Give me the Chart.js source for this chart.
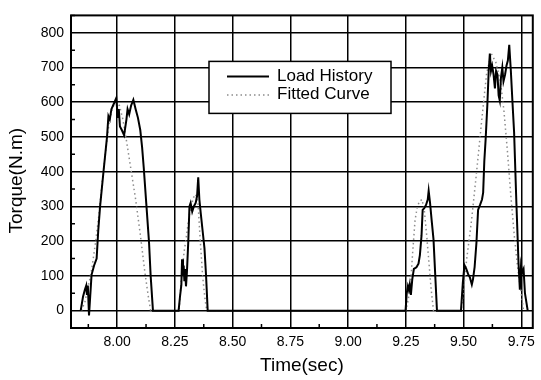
<!DOCTYPE html>
<html><head><meta charset="utf-8">
<script src="https://cdn.jsdelivr.net/npm/chart.js@4/dist/chart.umd.min.js"></script>
<style>html,body{margin:0;padding:0;background:#fff;} #wrap{width:541px;height:380px;position:relative;}</style>
</head><body><div id="wrap"><canvas id="c" width="541" height="380"></canvas></div>
<script>
// ---- data ----
const seriesNames = ['Load History', 'Fitted Curve'];
const xAxisTitle = 'Time(sec)';
const yAxisTitle = 'Torque(N.m)';

const loadTime = [
  7.842, 7.852, 7.860, 7.866, 7.869, 7.873, 7.878, 7.889, 7.900, 7.911, 7.918, 7.926, 7.941, 7.956, 7.962, 7.968, 7.975, 7.985, 7.996,
  8.003, 8.007, 8.012, 8.020, 8.030, 8.040, 8.045, 8.052, 8.060, 8.070, 8.080, 8.090, 8.100, 8.108, 8.115, 8.126, 8.138, 8.145, 8.155,
  8.266, 8.272, 8.278, 8.281, 8.285, 8.288, 8.291, 8.294, 8.298, 8.302, 8.308, 8.313, 8.318, 8.325, 8.332, 8.340, 8.346, 8.351, 8.356,
  8.362, 8.370, 8.378, 8.385, 8.392,
  9.249, 9.254, 9.259, 9.263, 9.267, 9.272, 9.278, 9.285, 9.296, 9.305, 9.311, 9.318, 9.323, 9.330, 9.338, 9.345, 9.349, 9.355, 9.362,
  9.370, 9.385,
  9.489, 9.497, 9.504, 9.512, 9.520, 9.528, 9.536, 9.541, 9.548, 9.556, 9.563, 9.572, 9.580, 9.585, 9.590, 9.596, 9.603, 9.609, 9.614,
  9.619, 9.624, 9.630, 9.636, 9.641, 9.647, 9.652, 9.657, 9.662, 9.668, 9.673, 9.680, 9.686, 9.692, 9.698, 9.705, 9.712, 9.719, 9.729,
  9.738, 9.744, 9.749, 9.754, 9.760, 9.766, 9.778
];
const loadTorque = [
  0, 40, 60, 72, 45, 72, -14, 103, 130, 150, 230, 300, 402, 500, 560, 550, 580, 595, 612,
  555, 580, 530, 520, 505, 550, 580, 565, 590, 607, 580, 555, 520, 470, 412, 309, 196, 100, 0,
  0, 40, 75, 148, 100, 130, 85, 120, 70, 110, 200, 300, 310, 285, 300, 310, 330, 384, 320,
  280, 230, 180, 100, 0,
  0, 50, 70, 60, 75, 45, 90, 120, 125, 135, 160, 215, 290, 295, 305, 320, 345, 310, 260,
  205, 0,
  0, 80, 131, 120, 105, 95, 75, 90, 125, 196, 290, 305, 320, 340, 430, 496, 590, 690, 740,
  690, 705, 680, 640, 690, 680, 620, 605, 670, 700, 660, 680, 705, 720, 765, 690, 600, 514, 309,
  140, 60, 130, 110, 120, 50, 0
];

const fitTime = [
  7.845, 7.860, 7.875, 7.890, 7.905, 7.920, 7.935, 7.950, 7.965, 7.980, 7.995, 8.010, 8.025, 8.040, 8.060, 8.080, 8.100, 8.120, 8.135, 8.145,
  8.268, 8.280, 8.290, 8.300, 8.310, 8.320, 8.330, 8.340, 8.350, 8.360, 8.370, 8.380, 8.388,
  9.250, 9.260, 9.270, 9.280, 9.290, 9.300, 9.310, 9.320, 9.330, 9.340, 9.350, 9.360, 9.370,
  9.490, 9.500, 9.514, 9.535, 9.557, 9.578, 9.600, 9.620, 9.640, 9.660, 9.675, 9.690, 9.705, 9.720, 9.735, 9.750, 9.760
];
const fitTorque = [
  0, 25, 70, 120, 190, 270, 370, 460, 540, 585, 600, 590, 550, 490, 405, 320, 220, 110, 40, 0,
  0, 110, 170, 215, 265, 300, 325, 335, 310, 200, 100, 35, 0,
  0, 30, 70, 170, 260, 300, 315, 320, 290, 220, 140, 60, 0,
  0, 60, 150, 262, 402, 543, 683, 740, 715, 660, 575, 460, 330, 215, 120, 50, 0
];

const xTickValues = [8.00, 8.25, 8.50, 8.75, 9.00, 9.25, 9.50, 9.75];
const xTickLabels = ['8.00', '8.25', '8.50', '8.75', '9.00', '9.25', '9.50', '9.75'];
const yTickValues = [0, 100, 200, 300, 400, 500, 600, 700, 800];
const yTickLabels = ['0', '100', '200', '300', '400', '500', '600', '700', '800'];

// ---- chart ----
const FONT = "'Liberation Sans', Arial, Helvetica, sans-serif";

const framePlugin = {
  id: 'frame',
  afterDatasetsDraw(chart) {
    const {ctx, chartArea: ca, scales} = chart;
    ctx.save();
    ctx.strokeStyle = '#000';
    ctx.lineWidth = 2;
    ctx.strokeRect(ca.left, ca.top, ca.right - ca.left, ca.bottom - ca.top);
    // minor ticks (midpoints between major ticks), inside the frame
    ctx.lineWidth = 1.5;
    ctx.beginPath();
    for (let i = 0; i < yTickValues.length; i++) {
      const v = yTickValues[i] + (yTickValues[1] - yTickValues[0]) / 2;
      if (v > scales.y.max) continue;
      const py = scales.y.getPixelForValue(v);
      ctx.moveTo(ca.left, py); ctx.lineTo(ca.left + 4, py);
    }
    for (let i = -1; i < xTickValues.length; i++) {
      const v = (i < 0 ? xTickValues[0] - 0.125 : xTickValues[i] + 0.125);
      if (v < scales.x.min || v > scales.x.max) continue;
      const px = scales.x.getPixelForValue(v);
      ctx.moveTo(px, ca.bottom); ctx.lineTo(px, ca.bottom - 4);
    }
    ctx.stroke();
    ctx.restore();
  },
  afterDraw(chart) {
    const {ctx, chartArea: ca} = chart;
    const ds = chart.data.datasets;
    const bx = ca.left + 138, by = ca.top + 46, bw = 182, bh = 52;
    ctx.save();
    ctx.fillStyle = '#fff';
    ctx.fillRect(bx, by, bw, bh);
    ctx.strokeStyle = '#000';
    ctx.lineWidth = 1.5;
    ctx.strokeRect(bx, by, bw, bh);
    const rows = [by + 15, by + 33.5];
    ds.forEach((d, i) => {
      ctx.beginPath();
      ctx.strokeStyle = d.borderColor;
      ctx.lineWidth = i === 0 ? 2 : 1.5;
      ctx.setLineDash(d.borderDash || []);
      ctx.moveTo(bx + 18, rows[i]); ctx.lineTo(bx + 60, rows[i]);
      ctx.stroke();
      ctx.setLineDash([]);
      ctx.fillStyle = '#000';
      ctx.font = '17px ' + FONT;
      ctx.textBaseline = 'middle';
      ctx.textAlign = 'left';
      ctx.fillText(d.label, bx + 68, rows[i] - 0.5);
    });
    ctx.restore();
  }
};

new Chart(document.getElementById('c'), {
  type: 'line',
  data: {
    datasets: [
      {
        label: seriesNames[0],
        data: loadTime.map((t, i) => ({x: t, y: loadTorque[i]})),
        borderColor: '#000',
        borderWidth: 2,
        pointRadius: 0,
        tension: 0,
        fill: false
      },
      {
        label: seriesNames[1],
        data: fitTime.map((t, i) => ({x: t, y: fitTorque[i]})),
        borderColor: '#8c8c8c',
        borderWidth: 1.5,
        borderDash: [1.5, 3],
        pointRadius: 0,
        tension: 0,
        fill: false
      }
    ]
  },
  options: {
    responsive: false,
    animation: false,
    devicePixelRatio: 1,
    layout: {padding: {top: 7, right: 5, left: 0, bottom: 0}},
    plugins: {legend: {display: false}, tooltip: {enabled: false}},
    scales: {
      x: {
        type: 'linear',
        min: 7.80,
        max: 9.80,
        afterBuildTicks: (s) => { s.ticks = xTickValues.map(v => ({value: v})); },
        afterFit: (s) => { s.height = 52; },
        ticks: {
          autoSkip: false, maxRotation: 0, padding: 6, color: '#000',
          font: {family: FONT, size: 14},
          callback: (v, i) => xTickLabels[i]
        },
        grid: {color: '#000', lineWidth: 1.5, drawTicks: false},
        border: {display: false},
        title: {display: true, text: xAxisTitle, color: '#000', font: {family: FONT, size: 19}, padding: {top: 0, bottom: 3}}
      },
      y: {
        min: -50,
        max: 850,
        afterBuildTicks: (s) => { s.ticks = yTickValues.map(v => ({value: v})); },
        afterFit: (s) => {
          s.width = 71;
          if (!s._shifted) {
            const orig = s.drawTitle.bind(s);
            s.drawTitle = function () { const c = this.ctx; c.save(); c.translate(0, 9); orig(); c.restore(); };
            s._shifted = true;
          }
        },
        ticks: {
          padding: 7, color: '#000',
          font: {family: FONT, size: 14},
          callback: (v, i) => yTickLabels[i]
        },
        grid: {color: '#000', lineWidth: 1.5, drawTicks: false},
        border: {display: false},
        title: {display: true, text: yAxisTitle, color: '#000', font: {family: FONT, size: 19}, padding: {top: 5, bottom: 0}}
      }
    }
  },
  plugins: [framePlugin]
});
</script>
</body></html>
